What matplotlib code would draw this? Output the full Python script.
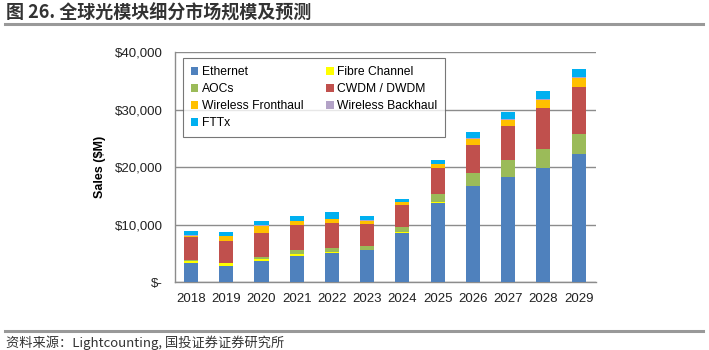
import numpy as np
import matplotlib.pyplot as plt
from matplotlib.patches import Patch
from matplotlib.ticker import FuncFormatter

plt.rcParams['font.family'] = ['Liberation Sans', 'Noto Sans CJK SC', 'DejaVu Sans']

years = ['2018', '2019', '2020', '2021', '2022', '2023',
         '2024', '2025', '2026', '2027', '2028', '2029']

# sales in $M
ethernet  = [3400, 2800, 3700, 4600, 5100, 5500, 8600, 13800, 16700, 18200, 19800, 22200]
fibre     = [200, 450, 300, 300, 100, 100, 60, 60, 60, 60, 60, 60]
aocs      = [300, 150, 300, 700, 700, 600, 900, 1450, 2250, 2950, 3250, 3450]
cwdm      = [3900, 3700, 4300, 4300, 4300, 3900, 3900, 4500, 4900, 5900, 7200, 8200]
fronthaul = [250, 850, 1200, 650, 750, 550, 450, 650, 1050, 1150, 1450, 1650]
backhaul  = [100, 50, 100, 100, 100, 100, 60, 60, 60, 60, 60, 60]
fttx      = [700, 700, 700, 850, 1100, 750, 550, 650, 1050, 1250, 1450, 1450]

series = [
    ('Ethernet', ethernet, '#4F81BD'),
    ('Fibre Channel', fibre, '#FFFF00'),
    ('AOCs', aocs, '#9BBB59'),
    ('CWDM / DWDM', cwdm, '#C0504D'),
    ('Wireless Fronthaul', fronthaul, '#FFC000'),
    ('Wireless Backhaul', backhaul, '#B3A2C7'),
    ('FTTx', fttx, '#00B0F0'),
]

fig = plt.figure(figsize=(7.09, 3.5), dpi=100)
ax = fig.add_axes([0.247, 0.194, 0.594, 0.657])

x = np.arange(len(years))
bottom = np.zeros(len(years))
for name, vals, col in series:
    ax.bar(x, vals, width=0.4, bottom=bottom, color=col, zorder=3)
    bottom += np.array(vals)

ax.set_ylim(0, 40000)
ax.set_xlim(-0.45, 11.5)
ax.set_yticks([0, 10000, 20000, 30000, 40000])
ax.yaxis.set_major_formatter(FuncFormatter(lambda v, p: '$-' if v == 0 else '${:,.0f}'.format(v)))
ax.set_xticks(x)
ax.set_xticklabels(years)
ax.tick_params(axis='both', length=0, labelsize=9.5, colors='#222222')
ax.tick_params(axis='y', pad=9)
ax.tick_params(axis='x', pad=8)
ax.grid(axis='y', color='#8c8c8c', linewidth=1, zorder=0)
for s in ['top', 'right']:
    ax.spines[s].set_visible(False)
for s in ['left', 'bottom']:
    ax.spines[s].set_color('#8c8c8c')
    ax.spines[s].set_linewidth(1)
ax.set_ylabel('Sales ($M)', fontsize=9, fontweight='bold', labelpad=6)

# legend order: row-wise in two columns
handles = [Patch(facecolor=c, edgecolor='none', label=n) for n, v, c in series]
order = [0, 2, 4, 6, 1, 3, 5]
leg = ax.legend([handles[i] for i in order], [series[i][0] for i in order],
                ncol=2, loc='upper left', bbox_to_anchor=(0.019, 0.974),
                borderaxespad=0, fontsize=8.7, frameon=True, fancybox=False,
                handlelength=0.6, handleheight=0.6, handletextpad=0.3,
                columnspacing=1.9, labelspacing=0.42, borderpad=0.65)
leg.get_frame().set_edgecolor('#555555')
leg.get_frame().set_linewidth(0.8)
leg.set_zorder(5)

fig.text(0.008, 0.962, '图 26. 全球光模块细分市场规模及预测', fontsize=13, fontweight='bold',
         color='#333333', va='center', family=['Noto Sans CJK SC', 'DejaVu Sans'])
fig.add_artist(plt.Line2D([0.007, 0.992], [0.932, 0.932], color='#999999', linewidth=2.2))
fig.add_artist(plt.Line2D([0.007, 0.992], [0.054, 0.054], color='#999999', linewidth=2.2))
fig.text(0.008, 0.022, '资料来源：Lightcounting, 国投证券证券研究所', fontsize=9.5,
         color='#333333', va='center', family=['Noto Sans CJK SC', 'DejaVu Sans'])

fig.savefig('out.png', dpi=100)
